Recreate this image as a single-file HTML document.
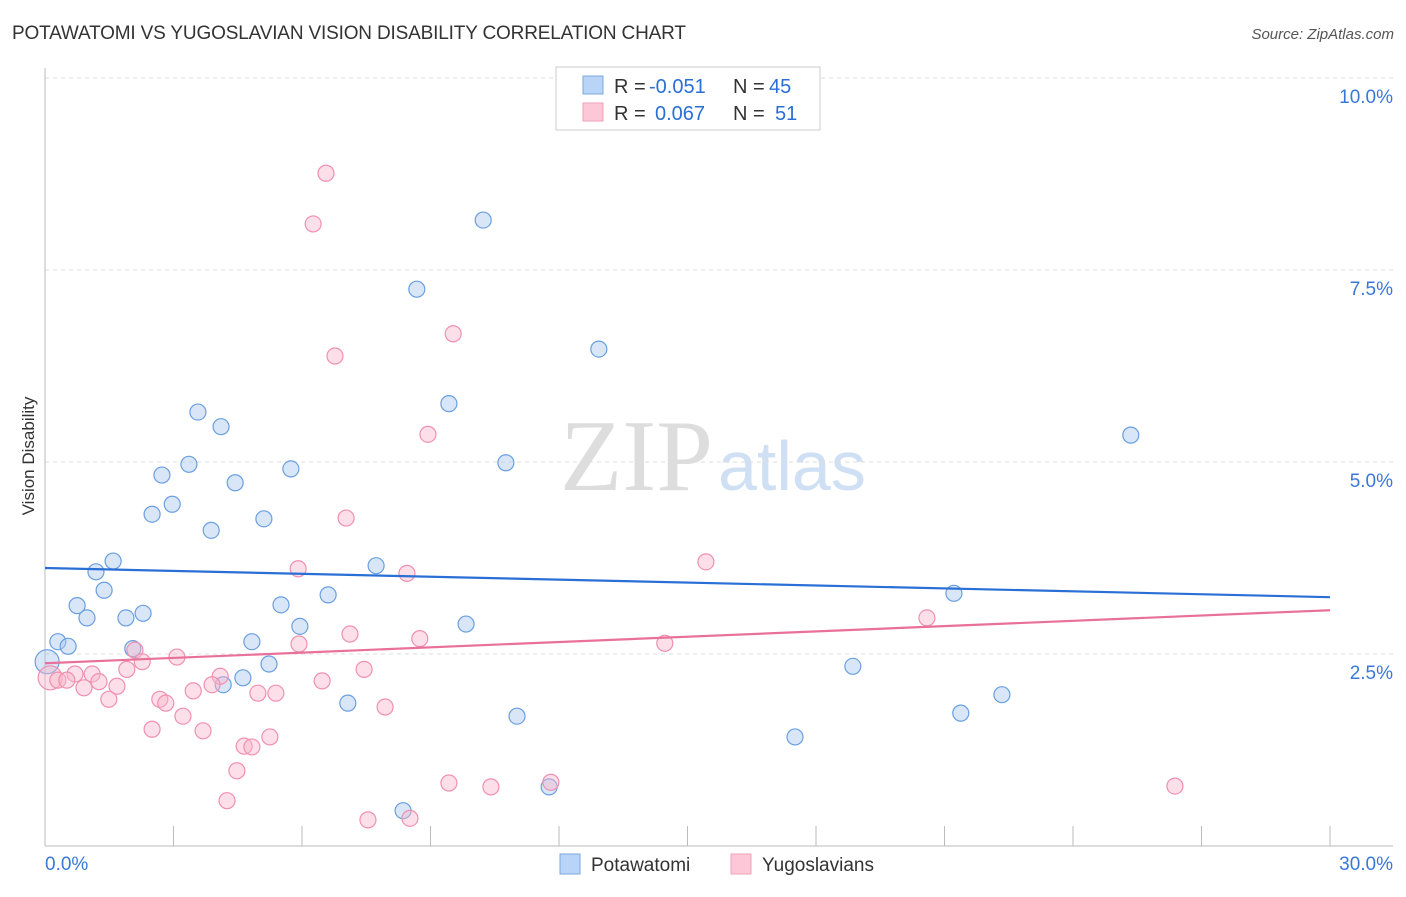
<!DOCTYPE html>
<html><head><meta charset="utf-8"><style>
body{margin:0;background:#fff;font-family:"Liberation Sans",sans-serif;}
</style></head><body>
<svg id="c" width="1406" height="892" xmlns="http://www.w3.org/2000/svg">
<text x="12" y="39" font-size="19" fill="#333" textLength="674">POTAWATOMI VS YUGOSLAVIAN VISION DISABILITY CORRELATION CHART</text>
<text x="1394" y="39" font-size="15" fill="#555" font-style="italic" text-anchor="end">Source: ZipAtlas.com</text>
<text x="34" y="456" font-size="17" fill="#333" transform="rotate(-90 34 456)" text-anchor="middle">Vision Disability</text>
<text x="713" y="490" font-size="102" fill="#ddd" text-anchor="end" font-family="Liberation Serif">ZIP</text>
<text x="718" y="490" font-size="70" fill="#cfe0f5">atlas</text>
<g id="grid"></g><g id="axes"></g><g id="pts"></g><g id="lines"></g>
<g>
<rect x="556" y="67" width="264" height="63" fill="#fff" stroke="#ccc"/>
<rect x="583" y="76" width="20" height="18" fill="#b8d4f6" stroke="#7aa8e0"/>
<rect x="583" y="103" width="20" height="18" fill="#fcc8d8" stroke="#f0a0b8"/>
<text x="614" y="93" font-size="20" fill="#333">R =</text>
<text x="649" y="93" font-size="20" fill="#2a6fd6">-0.051</text>
<text x="733" y="93" font-size="20" fill="#333">N =</text>
<text x="769" y="93" font-size="20" fill="#2a6fd6">45</text>
<text x="614" y="120" font-size="20" fill="#333">R =</text>
<text x="655" y="120" font-size="20" fill="#2a6fd6">0.067</text>
<text x="733" y="120" font-size="20" fill="#333">N =</text>
<text x="775" y="120" font-size="20" fill="#2a6fd6">51</text>
</g>
<g>
<rect x="560" y="854" width="20" height="20" fill="#b8d4f6" stroke="#7aa8e0"/>
<text x="591" y="871" font-size="19" fill="#333">Potawatomi</text>
<rect x="731" y="854" width="20" height="20" fill="#fcc8d8" stroke="#f0a0b8"/>
<text x="762" y="871" font-size="19" fill="#333">Yugoslavians</text>
</g>
</svg>
<script>
const blueX=[10.23,8.68,12.93,9.43,3.57,4.11,25.35,3.36,10.76,5.74,2.73,4.44,2.97,2.50,5.11,3.88,1.59,1.19,7.73,1.38,6.61,21.22,0.75,5.51,2.29,0.98,1.89,5.95,9.83,0.30,0.54,4.83,2.05,0.05,5.23,18.86,4.62,4.16,22.34,7.07,11.02,21.38,17.51,11.77,8.36];
const blueY=[8.15,7.25,6.47,5.76,5.65,5.46,5.35,4.97,4.99,4.91,4.83,4.73,4.45,4.32,4.26,4.11,3.71,3.57,3.65,3.33,3.27,3.29,3.13,3.14,3.03,2.97,2.97,2.86,2.89,2.66,2.60,2.66,2.57,2.40,2.37,2.34,2.19,2.10,1.97,1.86,1.69,1.73,1.42,0.77,0.46];
const pinkX=[6.56,6.26,6.77,9.53,8.94,7.03,15.43,5.91,8.45,20.59,7.12,8.75,5.93,14.47,2.10,3.08,2.27,1.91,7.45,0.12,0.70,1.10,4.09,0.30,0.51,1.26,6.47,3.90,1.68,0.91,3.46,4.97,5.39,2.68,2.82,1.49,7.94,3.22,2.50,3.69,5.25,4.65,4.83,4.48,9.43,10.41,11.81,26.38,4.25,7.54,8.52];
const pinkY=[8.76,8.10,6.38,6.67,5.36,4.27,3.70,3.61,3.55,2.97,2.76,2.70,2.63,2.64,2.55,2.46,2.40,2.30,2.30,2.19,2.24,2.24,2.21,2.16,2.16,2.14,2.15,2.10,2.08,2.06,2.02,1.99,1.99,1.91,1.86,1.91,1.81,1.69,1.52,1.50,1.42,1.30,1.29,0.98,0.82,0.77,0.83,0.78,0.59,0.34,0.36];
const blueTrend=[3.62,3.24];
const pinkTrend=[2.38,3.07];
const yTicks=[2.5,5.0,7.5,10.0];
const yTickLabels=["2.5%","5.0%","7.5%","10.0%"];
const xTicks=[0,3,6,9,12,15,18,21,24,27,30];
const NS="http://www.w3.org/2000/svg";
const sx=v=>45+v/30*1285, sy=v=>846-v*76.8;
function mk(p,t,a){const e=document.createElementNS(NS,t);for(const k in a)e.setAttribute(k,a[k]);document.getElementById(p).appendChild(e);return e;}
yTicks.forEach((v,i)=>{const g=mk('grid','line',{x1:45,x2:1393,y1:sy(v),y2:sy(v),stroke:'#ddd','stroke-dasharray':'4,4'});


const t=mk('grid','text',{x:1393,y:sy(v)+25,'font-size':19,fill:'#3a78d8','text-anchor':'end'});t.textContent=yTickLabels[i];

});
const ax=mk('axes','line',{x1:45,x2:45,y1:68,y2:846,stroke:'#bbb'});


const bx=mk('axes','line',{x1:45,x2:1393,y1:846,y2:846,stroke:'#bbb'});


xTicks.forEach(v=>{const l=mk('axes','line',{x1:sx(v),x2:sx(v),y1:826,y2:846,stroke:'#bbb'});

});
const x0=mk('axes','text',{x:45,y:870,'font-size':19,fill:'#3a78d8'});x0.textContent="0.0%";


const x1=mk('axes','text',{x:1393,y:870,'font-size':19,fill:'#3a78d8','text-anchor':'end'});x1.textContent="30.0%";


function pts(X,Y,f,s,n){X.forEach((x,i)=>{const c=mk('pts','circle',{cx:sx(x),cy:sy(Y[i]),r:(i==33&&n=='blue')||(i==19&&n=='pink')?12:8,fill:f,'fill-opacity':0.45,stroke:s,'stroke-width':1.2});

});}
pts(blueX,blueY,'#a8c8f0','#6a9fe0','blue');
pts(pinkX,pinkY,'#f8b8cc','#f090b0','pink');
const bl=mk('lines','line',{x1:sx(0),x2:sx(30),y1:sy(blueTrend[0]),y2:sy(blueTrend[1]),stroke:'#2a6fd6','stroke-width':2.2});


const pl=mk('lines','line',{x1:sx(0),x2:sx(30),y1:sy(pinkTrend[0]),y2:sy(pinkTrend[1]),stroke:'#e8709a','stroke-width':2.2});


</script>
</body></html>
